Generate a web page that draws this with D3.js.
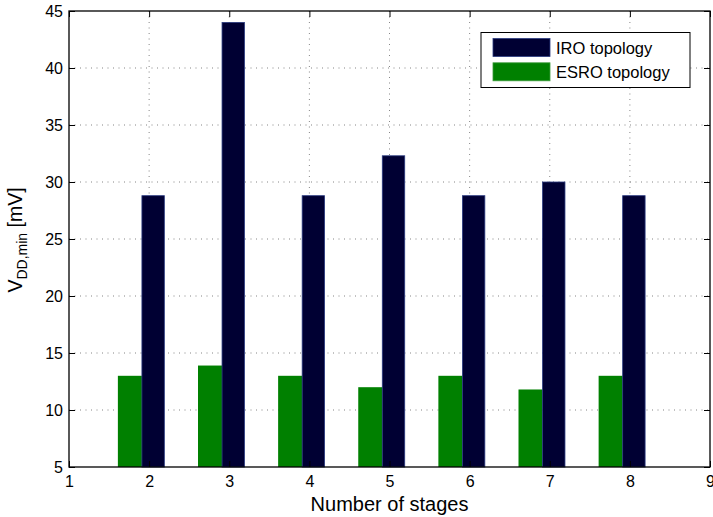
<!DOCTYPE html>
<html><head><meta charset="utf-8">
<script src="https://cdn.jsdelivr.net/npm/d3@7/dist/d3.min.js"></script>
<style>body{margin:0;background:#fff}svg{display:block;font-family:"Liberation Sans",Arial,Helvetica,sans-serif}</style>
</head><body><svg id="c" width="713" height="517"></svg>
<script>
const stages = [2, 3, 4, 5, 6, 7, 8];
const iroValues = [28.8, 44, 28.8, 32.3, 28.8, 30, 28.8];
const esroValues = [13, 13.9, 13, 12, 13, 11.8, 13];
const xTicks = [1, 2, 3, 4, 5, 6, 7, 8, 9];
const yTicks = [5, 10, 15, 20, 25, 30, 35, 40, 45];
const seriesNames = ["IRO topology", "ESRO topology"];

const svg = d3.select("#c");
const L = 69, R = 710, T = 11, B = 467;
const x = d3.scaleLinear().domain([1, 9]).range([L, R]);
const y = d3.scaleLinear().domain([5, 45]).range([B, T]);
const navy = "#000033", green = "#008000";

// grid
const g = svg.append("g");
g.selectAll(".gx").data(xTicks.slice(1, -1)).join("line")
  .attr("x1", d => x(d)).attr("x2", d => x(d)).attr("y1", T).attr("y2", B)
  .attr("stroke", "#666").attr("stroke-width", 0.8).attr("stroke-dasharray", "1,4.5");
g.selectAll(".gy").data(yTicks.slice(1, -1)).join("line")
  .attr("y1", d => y(d)).attr("y2", d => y(d)).attr("x1", L).attr("x2", R)
  .attr("stroke", "#666").attr("stroke-width", 0.8).attr("stroke-dasharray", "1,4.5");

// bars
svg.selectAll(".esro").data(stages).join("rect")
  .attr("x", (d) => x(d - 0.39)).attr("width", x(0.3) - x(0))
  .attr("y", (d, i) => y(esroValues[i])).attr("height", (d, i) => y(5) - y(esroValues[i]))
  .attr("fill", green);
svg.selectAll(".iro").data(stages).join("rect")
  .attr("x", (d) => x(d - 0.09)).attr("width", x(0.28) - x(0))
  .attr("y", (d, i) => y(iroValues[i])).attr("height", (d, i) => y(5) - y(iroValues[i]))
  .attr("fill", navy).attr("stroke", "#2b3b80").attr("stroke-width", 0.8);

// axes box
svg.append("rect").attr("x", L).attr("y", T).attr("width", R - L).attr("height", B - T)
  .attr("fill", "none").attr("stroke", "#000").attr("stroke-width", 1.3);

const ax = svg.append("g").attr("transform", `translate(0,${B})`)
  .call(d3.axisBottom(x).tickValues(xTicks).tickSize(-6).tickPadding(9).tickFormat(d3.format("d")));
const axTop = svg.append("g").attr("transform", `translate(0,${T})`)
  .call(d3.axisTop(x).tickValues(xTicks).tickSize(-6).tickFormat(""));
const ay = svg.append("g").attr("transform", `translate(${L},0)`)
  .call(d3.axisLeft(y).tickValues(yTicks).tickSize(-6).tickPadding(6).tickFormat(d3.format("d")));
const ayR = svg.append("g").attr("transform", `translate(${R},0)`)
  .call(d3.axisRight(y).tickValues(yTicks).tickSize(-6).tickFormat(""));
[ax, axTop, ay, ayR].forEach(a => {
  a.select(".domain").remove();
  a.selectAll("line").attr("stroke", "#000").attr("stroke-width", 1);
  a.selectAll("text").attr("font-size", 16).attr("fill", "#000").attr("font-family", "Liberation Sans, Arial, sans-serif");
});
ax.selectAll("text").attr("dy", "0.71em");

// labels
svg.append("text").attr("x", x(5)).attr("y", 511).attr("text-anchor", "middle")
  .attr("font-size", 20).text("Number of stages");
const yl = svg.append("text").attr("transform", "translate(22,240) rotate(-90)")
  .attr("text-anchor", "middle").attr("font-size", 19.5);
yl.append("tspan").text("V");
yl.append("tspan").attr("font-size", 14).attr("dy", 5).text("DD,min");
yl.append("tspan").attr("dy", -5).text(" [mV]");

// legend
const lg = svg.append("g");
lg.append("rect").attr("x", 481).attr("y", 32.5).attr("width", 209).attr("height", 55)
  .attr("fill", "#fff").attr("stroke", "#000").attr("stroke-width", 1);
const colors = [navy, green];
seriesNames.forEach((n, i) => {
  lg.append("rect").attr("x", 493).attr("y", 38.5 + i * 24.3).attr("width", 57).attr("height", 18)
    .attr("fill", colors[i]).attr("stroke", i === 0 ? "#2b3b80" : "#3a9a3a").attr("stroke-width", 0.8);
  lg.append("text").attr("x", 556).attr("y", 53.5 + i * 24.3).attr("font-size", 16.5).text(n);
});
</script></body></html>
